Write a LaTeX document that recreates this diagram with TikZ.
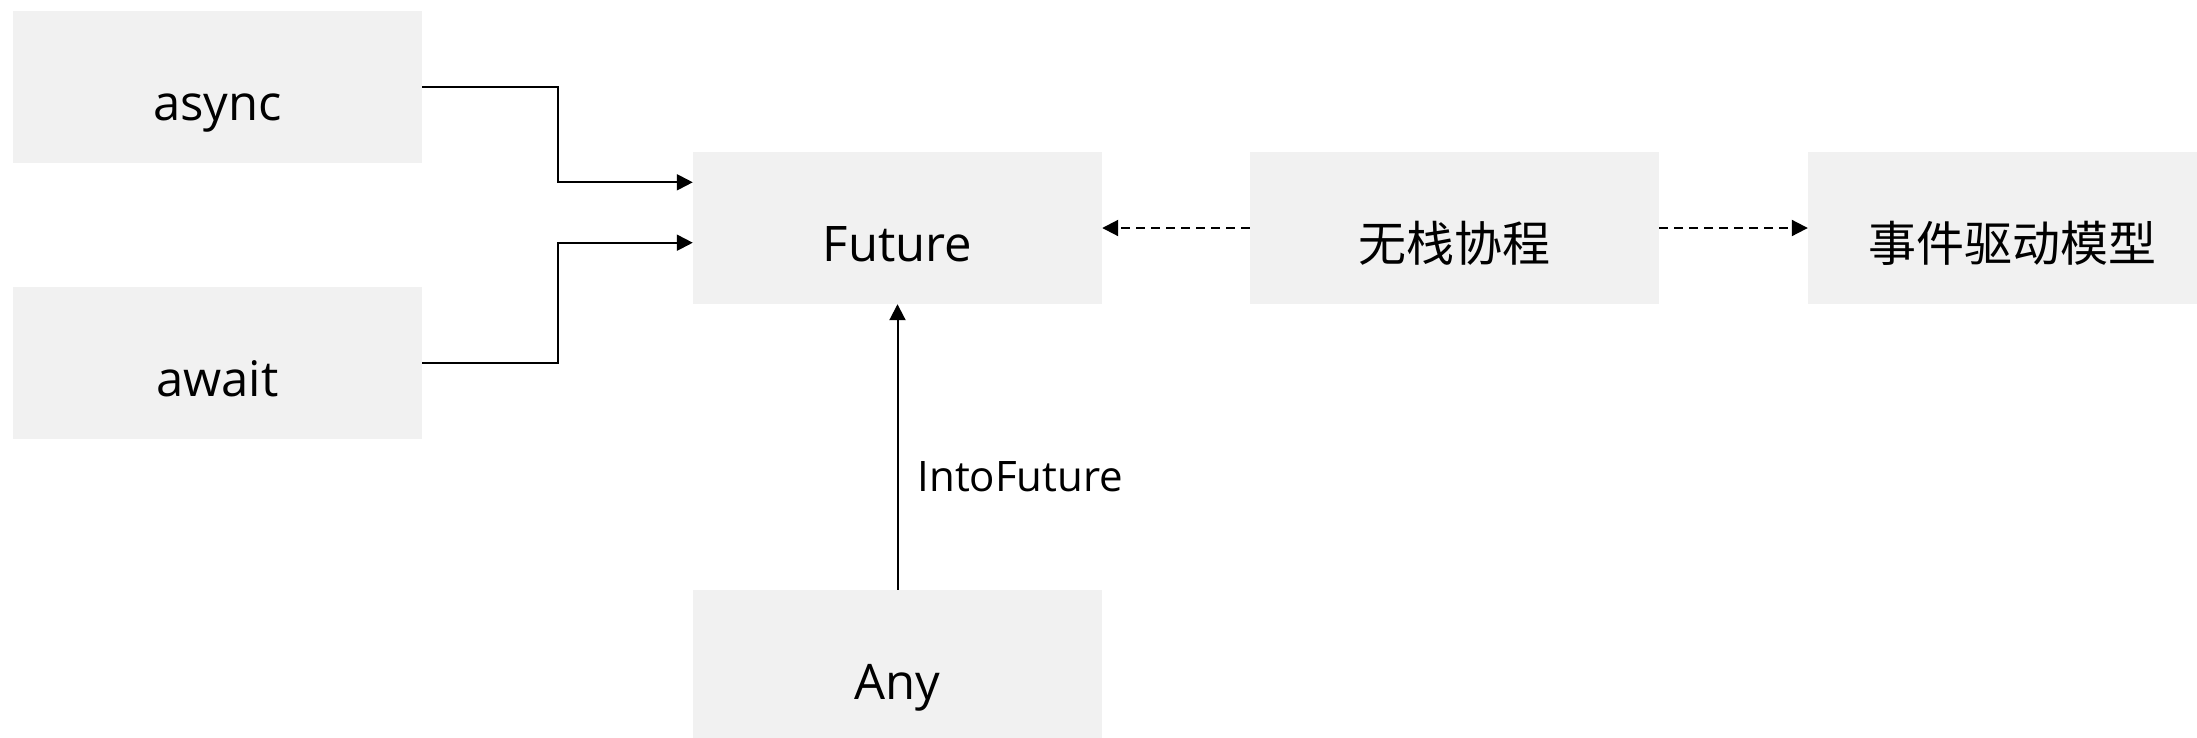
\documentclass[tikz,border=0pt]{standalone}
\usepackage{fontspec}
\setmainfont{Open Sans}
\newfontfamily\cjk{Noto Sans CJK SC}
\usetikzlibrary{arrows.meta}
\definecolor{boxfill}{HTML}{F1F1F1}
\tikzset{
  box/.style={fill=boxfill, draw=none, inner sep=0pt, minimum width=409pt,
    text height=109pt, text depth=43pt, font=\fontsize{49}{60}\selectfont},
  cjkbox/.style={box, font=\fontsize{48}{58}\selectfont\cjk},
  conn/.style={line width=2pt, -{Triangle[length=16pt,width=16pt]}},
  dashconn/.style={conn, dash pattern=on 9pt off 6pt},
}
\begin{document}
\begin{tikzpicture}[x=1pt,y=-1pt]
\clip (0,0) rectangle (2197,737);
\useasboundingbox (0,0) rectangle (2197,737);
\node[box] (async) at (217.4,87) {async};
\node[box] (await) at (217.4,363) {await};
\node[box] (future) at (897.5,228) {Future};
\node[cjkbox] (wz) at (1454.5,228) {无栈协程};
\node[cjkbox] (sj) at (2012.5,228) {事件驱动模型};
\node[box] (any) at (897.5,666) {Any};
\draw[conn] (async.east) -- ++(135.6,0) |- ([yshift=45.7pt]future.west);
\draw[conn] (await.east) -- ++(135.6,0) |- ([yshift=-14.7pt]future.west);
\draw[conn] (any.north) -- (future.south)
  node[pos=0.344, anchor=base west, inner sep=0pt, xshift=19pt, font=\fontsize{42}{50}\selectfont] (lbl) {IntoFuture};
\draw[dashconn] (wz.west) -- (future.east);
\draw[dashconn] (wz.east) -- (sj.west);
\end{tikzpicture}
\end{document}
